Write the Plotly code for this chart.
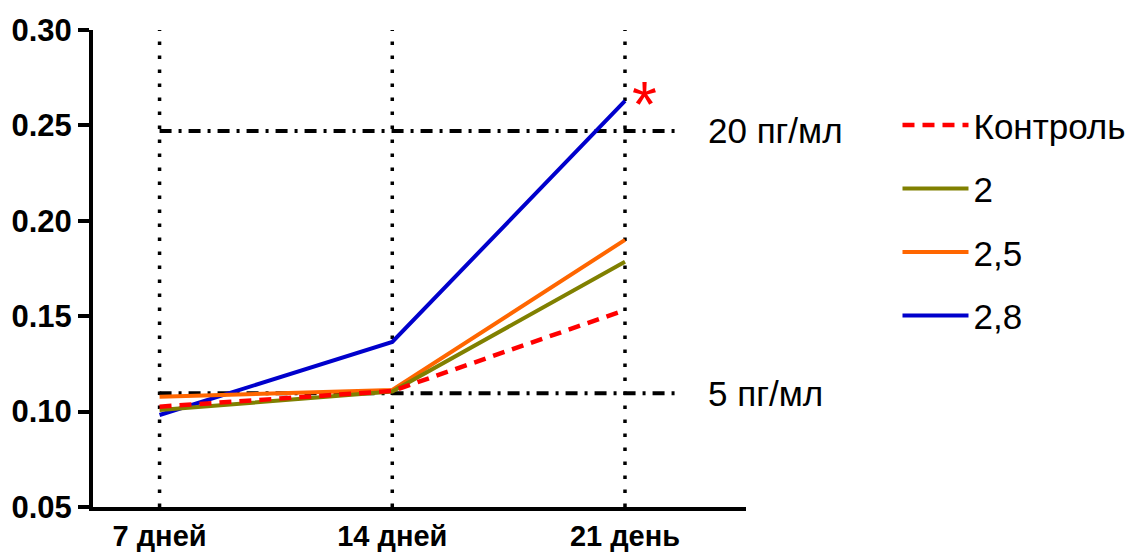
import plotly.graph_objects as go

categories = ["7 дней", "14 дней", "21 день"]
series_names = ["Контроль", "2", "2,5", "2,8"]
control = [0.1026, 0.1108, 0.1532]
conc_2 = [0.1008, 0.1105, 0.1786]
conc_25 = [0.1078, 0.1113, 0.1900]
conc_28 = [0.0982, 0.1365, 0.2628]
ref_values = [0.1096, 0.2471]
ref_labels = ["5 пг/мл", "20 пг/мл"]
y_ticks = [0.05, 0.10, 0.15, 0.20, 0.25, 0.30]

FONT = "Liberation Sans"

fig = go.Figure()

# draw order: blue, orange, olive, red (legend order via legendrank)
fig.add_trace(go.Scatter(x=categories, y=conc_28, name=series_names[3], mode="lines",
                         line=dict(color="#0000CC", width=4), legendrank=4, legendgroup="d"))
fig.add_trace(go.Scatter(x=categories, y=conc_25, name=series_names[2], mode="lines",
                         line=dict(color="#FF6600", width=4), legendrank=3, legendgroup="c"))
fig.add_trace(go.Scatter(x=categories, y=conc_2, name=series_names[1], mode="lines",
                         line=dict(color="#808000", width=4), legendrank=2, legendgroup="b"))
fig.add_trace(go.Scatter(x=categories, y=control, name=series_names[0], mode="lines",
                         line=dict(color="#FF0000", width=4.5, dash="12px,8px"), legendrank=1, legendgroup="a"))

shapes = []
for i in range(len(categories)):
    shapes.append(dict(type="line", xref="x", yref="paper", x0=i, x1=i, y0=0, y1=1,
                       line=dict(color="black", width=3.5, dash="3.5px,10.5px"), layer="below"))
for v in ref_values:
    shapes.append(dict(type="line", xref="x", yref="y", x0=0, x1=2.23, y0=v, y1=v,
                       line=dict(color="black", width=4, dash="12px,7px,3px,7px"), layer="below"))

annotations = []
for v, lab in zip(ref_values, ref_labels):
    annotations.append(dict(x=2.35, y=v, xref="x", yref="y", text=lab, showarrow=False,
                            xanchor="left", yanchor="middle",
                            font=dict(family=FONT, size=35, color="black")))
annotations.append(dict(x=2.085, y=conc_28[2], xref="x", yref="y", text="*", showarrow=False,
                        xanchor="center", yanchor="middle", yshift=-4,
                        font=dict(family=FONT, size=64, color="#FF0000")))

fig.update_layout(
    width=1135, height=544,
    margin=dict(l=85, r=393, t=22, b=45),
    paper_bgcolor="white", plot_bgcolor="white",
    shapes=shapes, annotations=annotations,
    showlegend=True,
    legend=dict(x=1.232, y=0.862, xanchor="left", yanchor="top",
                font=dict(family=FONT, size=35, color="black"),
                traceorder="grouped", tracegroupgap=15, itemwidth=66,
                bgcolor="rgba(0,0,0,0)"),
    xaxis=dict(type="category", range=[-0.286, 2.52], showline=True, linewidth=4, linecolor="black",
               showgrid=False, zeroline=False, ticks="", automargin=False,
               tickfont=dict(family=FONT, size=29, color="black", weight="bold")),
    yaxis=dict(range=[0.05, 0.30], tickvals=y_ticks, tickformat=".2f", showline=True, linewidth=4,
               linecolor="black", showgrid=False, zeroline=False, ticks="outside", ticklen=11,
               tickwidth=4, tickcolor="black", automargin=False, ticklabelstandoff=0,
               tickfont=dict(family=FONT, size=31, color="black", weight="bold")),
)

fig.write_html("out.html")
